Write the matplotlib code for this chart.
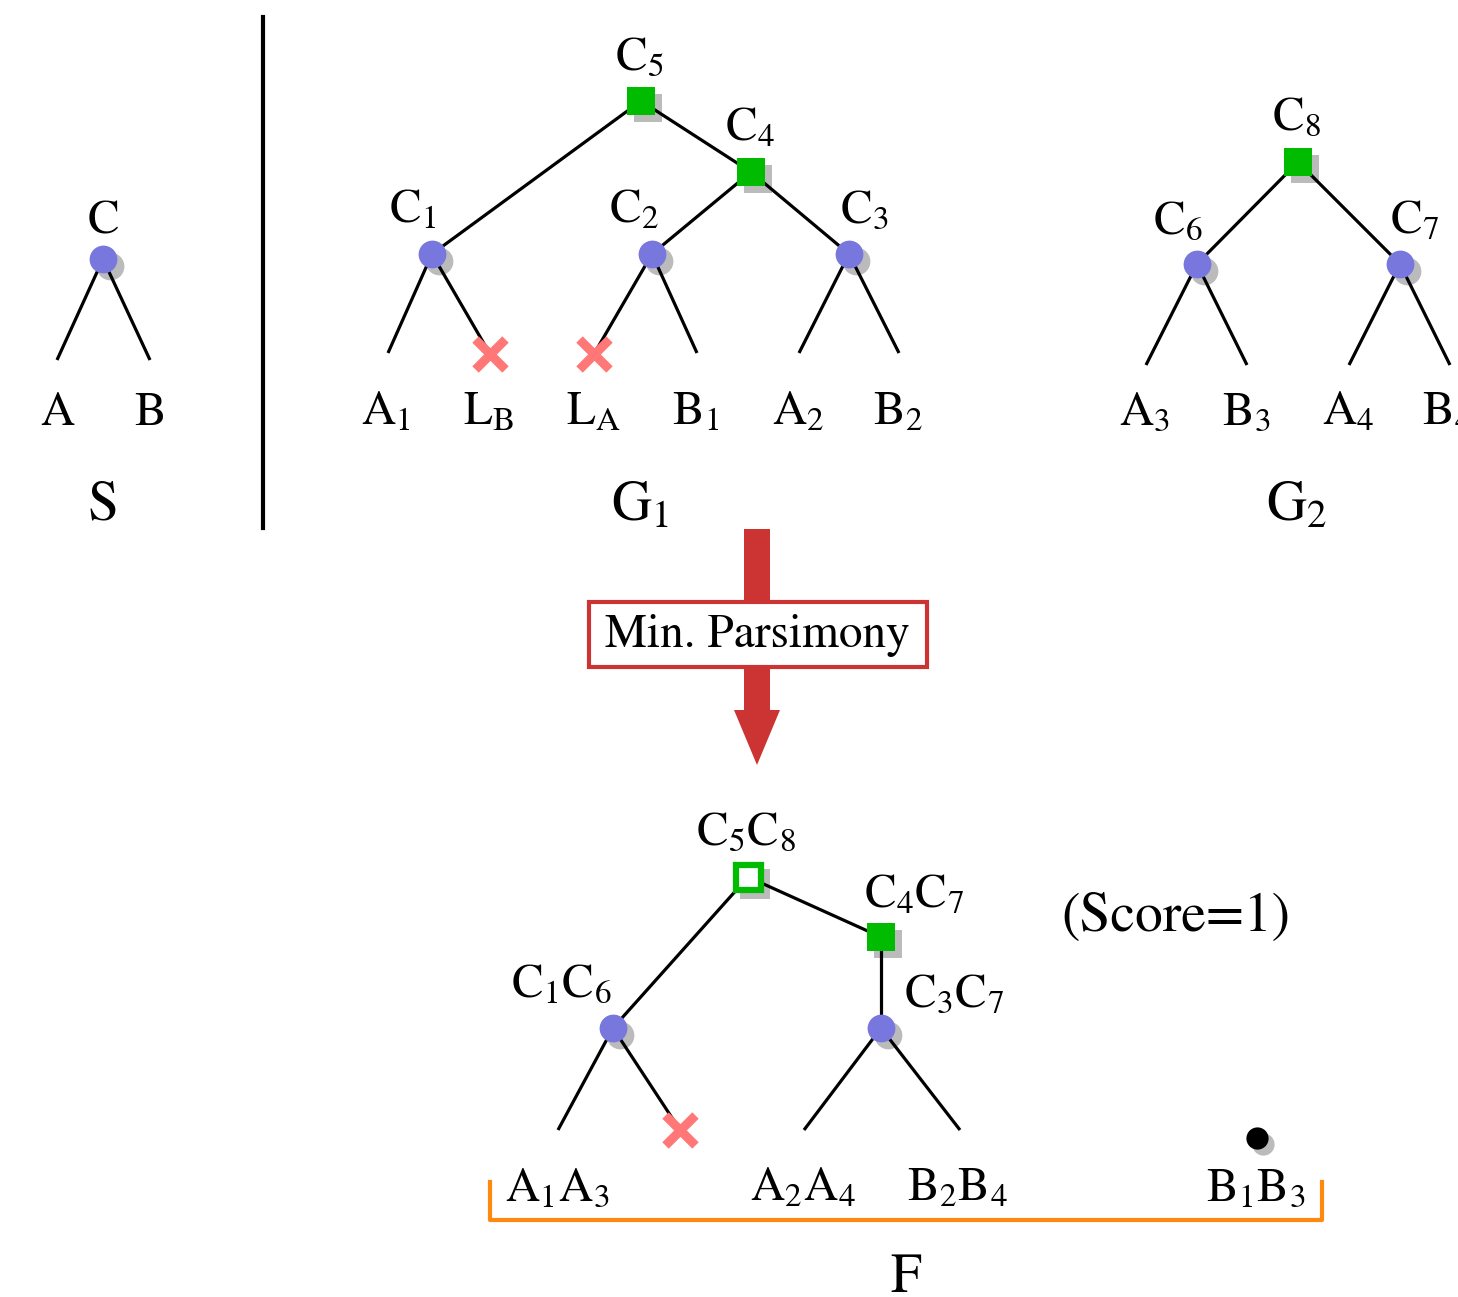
import matplotlib.pyplot as plt
from matplotlib.patches import Rectangle

plt.rcParams["font.family"] = ["STIXGeneral", "DejaVu Serif"]
plt.rcParams["mathtext.fontset"] = "stix"

# ---- node data (pixel-like coordinates, y grows downward) ----
# species tree S
s_node_x, s_node_y = [103], [259]
s_leaf_x = [57, 150]
s_leaf_y = [360, 360]
s_leaf_labels = ["A", "B"]

# gene tree G1: internal nodes
g1_names = ["C$_5$", "C$_4$", "C$_1$", "C$_2$", "C$_3$"]
g1_x = [641, 751, 432, 652, 849]
g1_y = [101, 172, 254, 254, 254]
g1_kind = ["dup", "dup", "spec", "spec", "spec"]
g1_label_x = [639, 750, 413, 634, 864]
g1_label_y = [70, 141, 223, 223, 223]
g1_edges = [(0, 2), (0, 1), (1, 3), (1, 4)]
g1_leaf_parent = [2, 2, 3, 3, 4, 4]
g1_leaf_x = [388, 490, 594, 697, 799, 899]
g1_leaf_y = [353, 354, 354, 353, 353, 353]
g1_leaf_lost = [False, True, True, False, False, False]
g1_leaf_labels = ["A$_1$", "L$_\\mathrm{B}$", "L$_\\mathrm{A}$", "B$_1$", "A$_2$", "B$_2$"]
g1_leaf_label_x = [386, 489, 593, 696, 798, 898]

# gene tree G2
g2_names = ["C$_8$", "C$_6$", "C$_7$"]
g2_x = [1298, 1197, 1400]
g2_y = [162, 264, 264]
g2_kind = ["dup", "spec", "spec"]
g2_label_x = [1297, 1178, 1415]
g2_label_y = [130, 234, 234]
g2_edges = [(0, 1), (0, 2)]
g2_leaf_parent = [1, 1, 2, 2]
g2_leaf_x = [1146, 1247, 1349, 1450]
g2_leaf_y = [365, 365, 365, 365]
g2_leaf_labels = ["A$_3$", "B$_3$", "A$_4$", "B$_4$"]
g2_leaf_label_x = [1145, 1246, 1348, 1447]

# forest F after min. parsimony
f_names = ["C$_5$C$_8$", "C$_4$C$_7$", "C$_1$C$_6$", "C$_3$C$_7$"]
f_x = [748, 881, 613, 881]
f_y = [877, 937, 1028, 1028]
f_kind = ["dup_open", "dup", "spec", "spec"]
f_label_x = [746, 914, 561, 954]
f_label_y = [845, 908, 997, 1007]
f_edges = [(0, 2), (0, 1), (1, 3)]
f_leaf_parent = [2, 2, 3, 3]
f_leaf_x = [558, 680, 804, 960]
f_leaf_y = [1130, 1130, 1130, 1130]
f_leaf_lost = [False, True, False, False]
f_leaf_labels = ["A$_1$A$_3$", "A$_2$A$_4$", "B$_2$B$_4$", "B$_1$B$_3$"]
f_leaf_label_x = [557, 803, 957, 1256]
f_single_x, f_single_y = [1257], [1138]

BLUE = "#7777dd"
GREEN = "#00bb00"
SHADOW = "#bbbbbb"
LOST = "#ff7777"
RED = "#cc3333"
ORANGE = "#ff8811"
FS = 34
FS_BIG = 40

fig = plt.figure(figsize=(14.58, 12.97), dpi=100)
ax = fig.add_axes([0, 0, 1, 1])
ax.set_xlim(0, 1458)
ax.set_ylim(1297, 0)
ax.axis("off")


def draw_node(x, y, kind):
    off = 7
    if kind == "spec":
        ax.plot(x + off, y + off, "o", ms=20, mew=0, color=SHADOW, zorder=1)
        ax.plot(x, y, "o", ms=20, mew=0, color=BLUE, zorder=3)
    elif kind == "dup":
        ax.plot(x + off, y + off, "s", ms=20, mew=0, color=SHADOW, zorder=1)
        ax.plot(x, y, "s", ms=20, mew=0, color=GREEN, zorder=3)
    elif kind == "dup_open":
        ax.plot(x + off, y + off, "s", ms=21, mew=0, color=SHADOW, zorder=1)
        ax.plot(x, y, "s", ms=18, mew=4.5, mec=GREEN, mfc="white", zorder=3)


def draw_lost(x, y):
    ax.plot(x, y, "x", ms=22, mew=6.5, color=LOST, zorder=4)


def draw_edge(x0, y0, x1, y1):
    ax.plot([x0, x1], [y0, y1], color="black", lw=2.3, zorder=2, solid_capstyle="butt")


def draw_tree(xs, ys, kinds, edges, leaf_parent, leaf_x, leaf_y, lost=None):
    for a, b in edges:
        draw_edge(xs[a], ys[a], xs[b], ys[b])
    for i, p in enumerate(leaf_parent):
        draw_edge(xs[p], ys[p], leaf_x[i], leaf_y[i])
        if lost is not None and lost[i]:
            draw_lost(leaf_x[i], leaf_y[i])
    for x, y, k in zip(xs, ys, kinds):
        draw_node(x, y, k)


def label(x, y, s, size=FS):
    ax.text(x, y, s, ha="center", va="baseline", fontsize=size, zorder=5)


# ---- S ----
draw_tree(s_node_x, s_node_y, ["spec"], [], [0, 0], s_leaf_x, s_leaf_y)
label(103, 234, "C")
for lx, s in zip(s_leaf_x, s_leaf_labels):
    label(lx, 425, s)
label(103, 519, "S", FS_BIG)

ax.plot([263, 263], [17, 528], color="black", lw=3)

# ---- G1 ----
draw_tree(g1_x, g1_y, g1_kind, g1_edges, g1_leaf_parent, g1_leaf_x, g1_leaf_y, g1_leaf_lost)
for lx, ly, s in zip(g1_label_x, g1_label_y, g1_names):
    label(lx, ly, s)
for lx, s in zip(g1_leaf_label_x, g1_leaf_labels):
    label(lx, 425, s)
label(640, 520, "G$_1$", FS_BIG)

# ---- G2 ----
draw_tree(g2_x, g2_y, g2_kind, g2_edges, g2_leaf_parent, g2_leaf_x, g2_leaf_y)
for lx, ly, s in zip(g2_label_x, g2_label_y, g2_names):
    label(lx, ly, s)
for lx, s in zip(g2_leaf_label_x, g2_leaf_labels):
    label(lx, 425, s)
label(1297, 520, "G$_2$", FS_BIG)

# ---- arrow with box ----
ax.arrow(757, 529, 0, 236, width=26, head_width=46, head_length=55,
         length_includes_head=True, color=RED, lw=0, zorder=1)
ax.add_patch(Rectangle((589, 602), 338, 65, facecolor="white", edgecolor=RED, lw=3, zorder=2))
label(757, 647, "Min. Parsimony")

# ---- F ----
draw_tree(f_x, f_y, f_kind, f_edges, f_leaf_parent, f_leaf_x, f_leaf_y, f_leaf_lost)
for lx, ly, s in zip(f_label_x, f_label_y, f_names):
    label(lx, ly, s)
for lx, s in zip(f_leaf_label_x, f_leaf_labels):
    label(lx, 1201, s)
ax.plot(f_single_x[0] + 6, f_single_y[0] + 6, "o", ms=16, mew=0, color=SHADOW, zorder=1)
ax.plot(f_single_x, f_single_y, "o", ms=16, mew=0, color="black", zorder=3)
label(1176, 931, "(Score=1)", FS_BIG)

ax.plot([490, 490, 1322, 1322], [1182, 1220, 1220, 1182], color=ORANGE, lw=3, zorder=2)
label(906, 1292, "F", FS_BIG)

fig.savefig("out.png", dpi=100)
